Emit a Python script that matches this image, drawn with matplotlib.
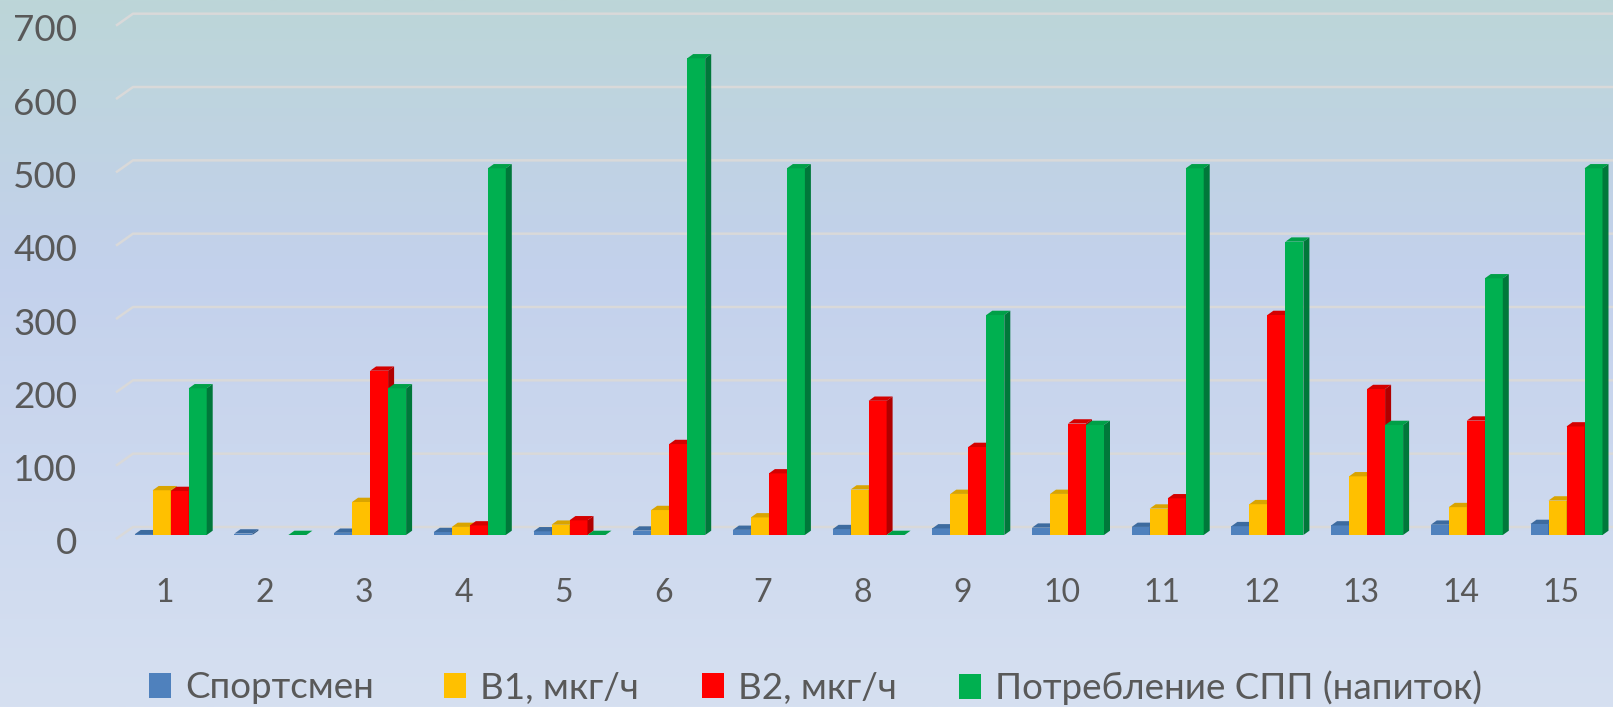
import numpy as np
import matplotlib
matplotlib.use('Agg')
import matplotlib.pyplot as plt
from matplotlib.patches import Polygon, Patch
from matplotlib import transforms

plt.rcParams['font.family'] = ['Lato', 'DejaVu Sans']

# ---------------- data ----------------
categories = [str(i) for i in range(1, 16)]
sportsmen = [1, 2, 3, 4, 5, 6, 7, 8, 9, 10, 11, 12, 13, 14, 15]
b1 = [61, np.nan, 45, 11, 14, 34, 24, 62, 56, 56, 36, 42, 80, 38, 47]
b2 = [60, np.nan, 224, 13, 20, 124, 84, 183, 120, 152, 50, 300, 199, 156, 148]
spp = [200, 0, 200, 500, 0, 650, 500, 0, 300, 150, 500, 400, 150, 350, 500]
series_names = ['Спортсмен', 'В1, мкг/ч', 'В2, мкг/ч', 'Потребление СПП (напиток)']
y_ticks = [0, 100, 200, 300, 400, 500, 600, 700]

# ---------------- style ----------------
front_colors = ['#4f81bd', '#ffc000', '#ff0000', '#00b050']
top_colors = ['#3d6b9f', '#d9a400', '#d40000', '#00a048']
side_colors = ['#335b88', '#c09000', '#b00000', '#00783a']
text_color = '#595959'

W, H = 1613, 707
DPI = 100
fig = plt.figure(figsize=(W / DPI, H / DPI), dpi=DPI)

# background gradient
bg = fig.add_axes([0, 0, 1, 1], zorder=-10)
stops = [(0.0, (188, 214, 216)), (0.38, (195, 209, 236)), (1.0, (214, 224, 241))]
t = np.linspace(0, 1, 400)
cols = np.zeros((400, 3))
for c in range(3):
    cols[:, c] = np.interp(t, [s[0] for s in stops], [s[1][c] / 255 for s in stops])
bg.imshow(cols[:, None, :], aspect='auto', extent=[0, 1, 0, 1])
bg.axis('off')

# geometry (pixels)
y0_px = 535.0
ppu = 0.7333
ax_left_px = 116.0
c0 = 170.7
step = 99.7
x_left = 1 + (ax_left_px - c0) / step
x_right = 1 + (W - c0) / step

ax = fig.add_axes([ax_left_px / W, (H - y0_px) / H, (W - ax_left_px) / W, (700 * ppu) / H])
ax.set_xlim(x_left, x_right)
ax.set_ylim(0, 700)
ax.patch.set_alpha(0)
for s in ax.spines.values():
    s.set_visible(False)

dxu = 1.0 / step   # data units per px (x)
dyu = 1.0 / ppu    # data units per px (y)

# gridlines with 3D left diagonal
for v in y_ticks:
    xs = [x_left, x_left + 17 * dxu, x_right]
    ys = [v - 4 * dyu, v + 8 * dyu, v + 8 * dyu]
    ax.plot(xs, ys, color='#d9d9d9', lw=1.8, zorder=1, clip_on=False, solid_capstyle='butt')

# bars
x = np.arange(1, 16)
bw = 18 * dxu
ddx, ddy = 6 * dxu, 4.3 * dyu
all_series = [sportsmen, b1, b2, spp]
for k, vals in enumerate(all_series):
    vals = np.asarray(vals, dtype=float)
    pos = x + (k - 1.5) * bw
    ax.bar(pos, np.nan_to_num(vals), bw, color=front_colors[k], linewidth=0,
           zorder=3 + 3 * k, label=series_names[k])
    for p, v in zip(pos, vals):
        if np.isnan(v):
            continue
        x0, x1 = p - bw / 2, p + bw / 2
        top = Polygon([(x0, v), (x1, v), (x1 + ddx, v + ddy), (x0 + ddx, v + ddy)],
                      closed=True, facecolor=top_colors[k], edgecolor='none',
                      zorder=4 + 3 * k, clip_on=False)
        ax.add_patch(top)
        if v > 0:
            side = Polygon([(x1, 0), (x1 + ddx, ddy), (x1 + ddx, v + ddy), (x1, v)],
                           closed=True, facecolor=side_colors[k], edgecolor='none',
                           zorder=5 + 3 * k, clip_on=False)
            ax.add_patch(side)

# ticks
ax.set_xticks(x, categories)
ax.set_yticks(y_ticks, [str(v) for v in y_ticks])
ax.tick_params(axis='x', length=0, pad=31, labelsize=23, labelcolor=text_color)
ax.tick_params(axis='y', length=0, pad=28, labelsize=26.5, labelcolor=text_color)
for lbl in ax.get_xticklabels():
    lbl.set_transform(lbl.get_transform() + transforms.ScaledTranslation(-6 / DPI, 0, fig.dpi_scale_trans))
for lbl in ax.get_yticklabels():
    lbl.set_transform(lbl.get_transform() + transforms.ScaledTranslation(0, -6 / DPI, fig.dpi_scale_trans))

# legend (one entry per legend to match spacing)
leg_x = [149, 444, 702, 959]
leg_y = (H - 688) / H
for k in range(4):
    h = Patch(facecolor=front_colors[k], edgecolor='none')
    fig.legend(handles=[h], labels=[series_names[k]], loc='center left',
               bbox_to_anchor=(leg_x[k] / W, leg_y), frameon=False, fontsize=26.5,
               handlelength=0.6, handleheight=0.66, handletextpad=0.38,
               borderpad=0, borderaxespad=0, labelcolor=text_color)

fig.savefig('out.png', dpi=DPI)
